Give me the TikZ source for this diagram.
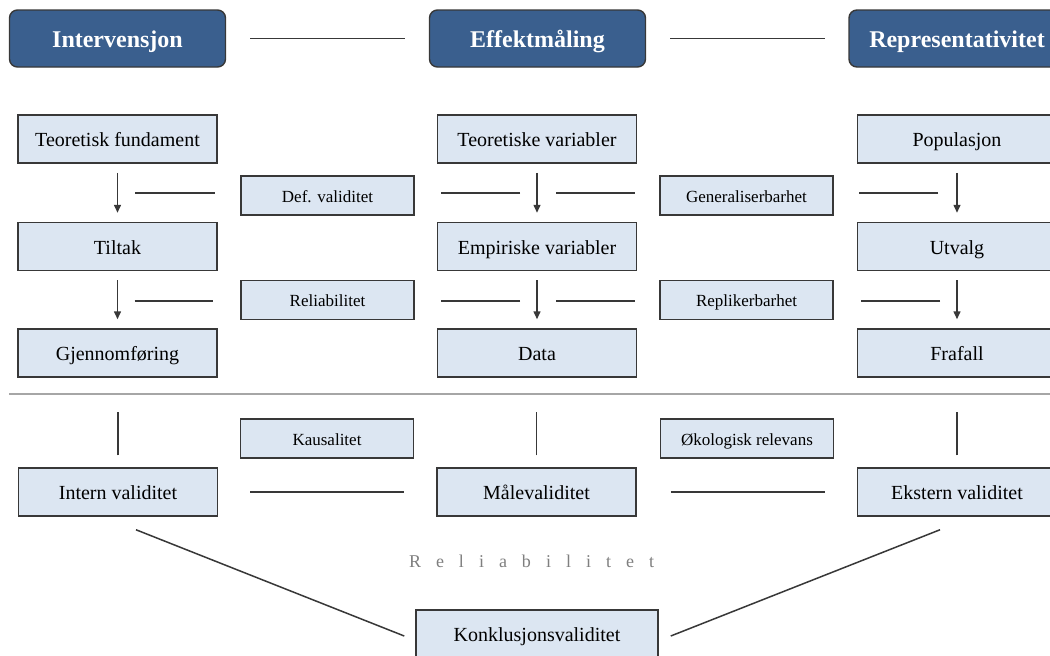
\documentclass[tikz,border=0pt]{standalone}
\usepackage{fontspec}
\setmainfont{Liberation Serif}
\usetikzlibrary{arrows.meta,calc}
\definecolor{hdrfill}{HTML}{3A5F8E}
\definecolor{boxfill}{HTML}{DCE6F2}
\definecolor{edge}{HTML}{383838}
\definecolor{rule}{HTML}{A6A6A6}
\definecolor{softtext}{HTML}{7F7F7F}

\begin{document}
\begin{tikzpicture}[x=1pt,y=-1pt,
  header/.style={draw=edge, line width=1.4pt, fill=hdrfill, rounded corners=8pt,
    minimum width=216pt, minimum height=57pt, text=white,
    font=\fontsize{24}{28}\selectfont\bfseries, inner sep=0pt,
    text height=21pt, text depth=2.2pt},
  mainbox/.style={draw=edge, line width=1.5pt, fill=boxfill,
    minimum width=199pt, minimum height=48pt,
    font=\fontsize{20}{24}\selectfont, inner sep=0pt,
    text height=18pt, text depth=3pt},
  smallbox/.style={draw=edge, line width=1.5pt, fill=boxfill,
    minimum width=173pt, minimum height=39pt,
    font=\fontsize{17}{20}\selectfont, inner sep=0pt,
    text height=15.5pt, text depth=2.3pt},
  link/.style={draw=edge, line width=1.7pt},
  flow/.style={link, line width=1.5pt, -{Triangle[length=8pt,width=7pt]}},
]
\useasboundingbox (0,0) rectangle (1050,656);
\fill[white] (0,0) rectangle (1050,656);
\clip (0,0) rectangle (1050,656);

% column headers
\node[header] (hi) at (117.5,38.5) {Intervensjon};
\node[header] (he) at (537.5,38.5) {Effektmåling};
\node[header] (hr) at (957,38.5) {Representativitet};
\draw[link, shorten <=24pt, shorten >=24pt] (hi.east) -- (he.west);
\draw[link, shorten <=24pt, shorten >=23pt] (he.east) -- (hr.west);

% three chains of concepts
\node[mainbox] (tf) at (117.5,139) {Teoretisk fundament};
\node[mainbox] (ti) at (117.5,246.5) {Tiltak};
\node[mainbox] (gj) at (117.5,353) {Gjennomføring};
\node[mainbox] (tv) at (537,139) {Teoretiske variabler};
\node[mainbox] (ev) at (537,246.5) {Empiriske variabler};
\node[mainbox] (da) at (537,353) {Data};
\node[mainbox] (po) at (957,139) {Populasjon};
\node[mainbox] (ut) at (957,246.5) {Utvalg};
\node[mainbox] (ff) at (957,353) {Frafall};

\draw[flow, shorten <=9pt, shorten >=9pt] (tf.south) -- (ti.north);
\draw[flow, shorten <=9pt, shorten >=9pt] (ti.south) -- (gj.north);
\draw[flow, shorten <=9pt, shorten >=9pt] (tv.south) -- (ev.north);
\draw[flow, shorten <=9pt, shorten >=9pt] (ev.south) -- (da.north);
\draw[flow, shorten <=9pt, shorten >=9pt] (po.south) -- (ut.north);
\draw[flow, shorten <=9pt, shorten >=9pt] (ut.south) -- (ff.north);

% quality labels between the chains
\node[smallbox] (dv) at (327.5,195.5) {Def. validitet};
\node[smallbox] (rl) at (327.5,300) {Reliabilitet};
\node[smallbox] (ge) at (746.5,195.5) {Generaliserbarhet};
\node[smallbox] (rp) at (746.5,300) {Replikerbarhet};

\coordinate (a1) at (117.5,193);
\coordinate (a2) at (537,193);
\coordinate (a3) at (957,193);
\coordinate (b1) at (117.5,301);
\coordinate (b2) at (537,301);
\coordinate (b3) at (957,301);
\draw[link, shorten <=17.5pt, shorten >=25pt] (a1) -- (a1 -| dv.west);
\draw[link, shorten <=17pt, shorten >=26pt] (a2) -- (a2 -| dv.east);
\draw[link, shorten <=19pt, shorten >=24pt] (a2) -- (a2 -| ge.west);
\draw[link, shorten <=19pt, shorten >=25pt] (a3) -- (a3 -| ge.east);
\draw[link, shorten <=17pt, shorten >=27pt] (b1) -- (b1 -| rl.west);
\draw[link, shorten <=17pt, shorten >=26pt] (b2) -- (b2 -| rl.east);
\draw[link, shorten <=19pt, shorten >=24pt] (b2) -- (b2 -| rp.west);
\draw[link, shorten <=17pt, shorten >=27pt] (b3) -- (b3 -| rp.east);

% separator
\draw[rule, line width=1.6pt] (9,394) -- (1050,394);

% validity summary
\node[mainbox] (iv) at (118,492) {Intern validitet};
\node[mainbox] (mv) at (536.5,492) {Målevaliditet};
\node[mainbox] (xv) at (957,492) {Ekstern validitet};
\node[smallbox] (ka) at (327,438.5) {Kausalitet};
\node[smallbox] (ok) at (747,438.5) {Økologisk relevans};
\node[mainbox, minimum width=242pt] (kv) at (537,634) {Konklusjonsvaliditet};

\draw[link, line width=1.4pt] ($(iv.north)+(0,-12)$) -- ++(0,-43);
\draw[link, line width=1.4pt] ($(mv.north)+(0,-12)$) -- ++(0,-43);
\draw[link, line width=1.4pt] ($(xv.north)+(0,-12)$) -- ++(0,-43);
\draw[link, shorten <=32pt, shorten >=32pt] (iv.east) -- (mv.west);
\draw[link, shorten <=34pt, shorten >=32pt] (mv.east) -- (xv.west);
\draw[link, line width=1.5pt] ($(iv.south)+(18,13)$) -- ($(kv.west)+(-11,2)$);
\draw[link, line width=1.5pt] ($(xv.south)+(-17,13)$) -- ($(kv.east)+(12,2)$);

\node[text=softtext, font=\fontsize{18}{20}\selectfont, inner sep=0pt] (rb) at (531.5,561)
  {R\kern15pt e\kern15pt l\kern15pt i\kern15pt a\kern15pt b\kern15pt i\kern15pt l\kern15pt i\kern15pt t\kern15pt e\kern15pt t};
\end{tikzpicture}
\end{document}
